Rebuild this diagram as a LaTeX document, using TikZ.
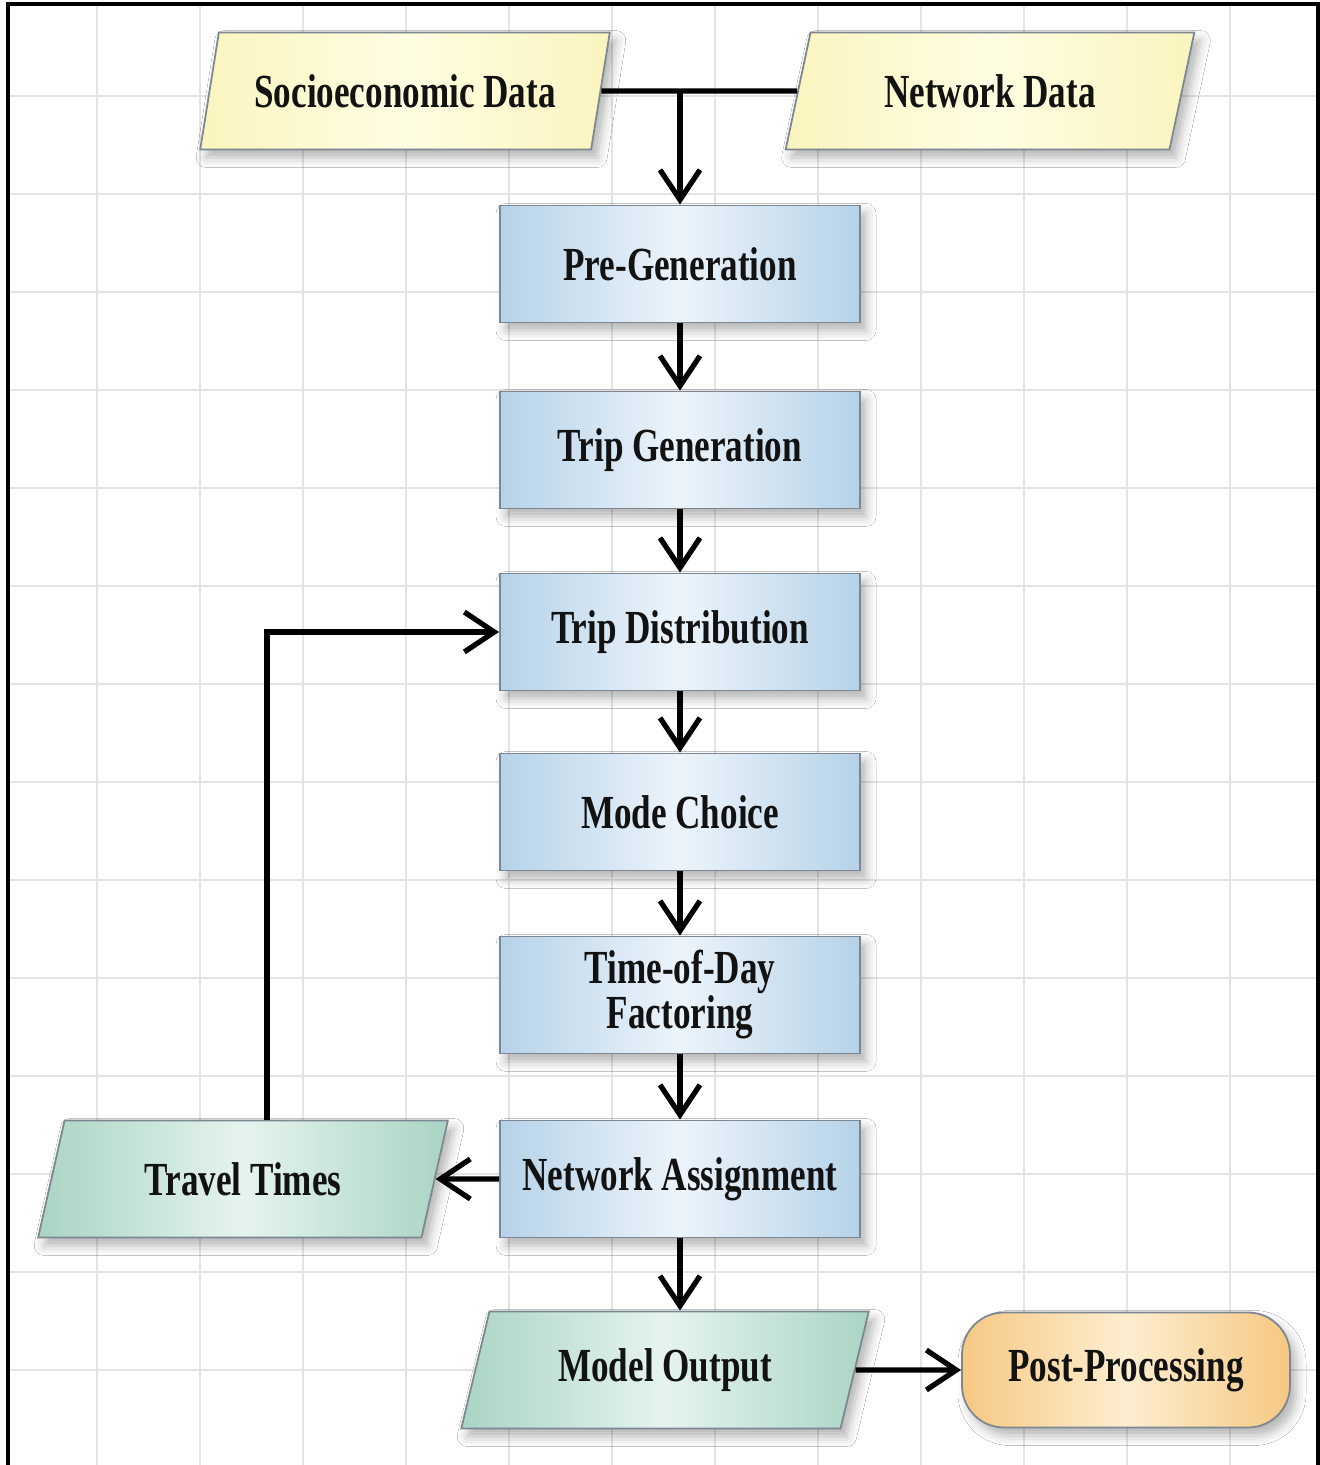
\documentclass[tikz,border=0pt]{standalone}
\usepackage{fontspec}
\setmainfont{Liberation Serif}[FakeStretch=0.74]
\usetikzlibrary{shapes.geometric,arrows.meta,shadows.blur,calc}

\definecolor{gridgray}{RGB}{228,228,228}
\definecolor{textdark}{RGB}{18,18,18}
\definecolor{boxline}{RGB}{125,135,145}
\definecolor{blueedge}{RGB}{182,210,232}
\definecolor{bluemid}{RGB}{236,244,251}
\definecolor{yellowedge}{RGB}{250,244,190}
\definecolor{yellowmid}{RGB}{255,253,226}
\definecolor{greenedge}{RGB}{170,212,196}
\definecolor{greenmid}{RGB}{229,244,238}
\definecolor{orangeedge}{RGB}{246,200,130}
\definecolor{orangemid}{RGB}{253,238,208}

\tikzset{
    boxshadow/.style={blur shadow={shadow xshift=0.06cm, shadow yshift=-0.08cm, shadow opacity=30, shadow blur radius=0.1cm}},
    boxtext/.style={font=\fontsize{13.5}{12.8}\selectfont\bfseries, text=textdark, align=center},
    stage/.style={rectangle, draw=boxline, line width=0.5pt, minimum width=3.6cm, minimum height=1.17cm,
        left color=blueedge, right color=blueedge, middle color=bluemid, boxshadow, boxtext},
    datashape/.style={trapezium, trapezium left angle=74, trapezium right angle=106, trapezium stretches=true,
        draw=boxline, line width=0.5pt, minimum width=4.1cm, minimum height=1.17cm, boxshadow, boxtext},
    inputdata/.style={datashape, left color=yellowedge, right color=yellowedge, middle color=yellowmid},
    outputdata/.style={datashape, left color=greenedge, right color=greenedge, middle color=greenmid},
    postbox/.style={rectangle, rounded corners=0.42cm, draw=boxline, line width=0.5pt, minimum width=3.28cm,
        minimum height=1.15cm, left color=orangeedge, right color=orangeedge, middle color=orangemid, boxshadow, boxtext},
    flowarrow/.style={line width=1.5pt, -{Straight Barb[length=3.0mm, width=4.0mm]}}
}

\begin{document}
\begin{tikzpicture}
    \useasboundingbox (0,0) rectangle (13.2,14.65);
    \fill[white] (0,0) rectangle (13.2,14.65);

    % grid paper
    \foreach \x in {0.97,2.00,...,12.31} {
        \draw[gridgray, line width=0.6pt] (\x, 0) -- (\x, 14.61);
    }
    \foreach \y in {0.95,1.93,...,13.70} {
        \draw[gridgray, line width=0.6pt] (0.08, \y) -- (13.18, \y);
    }
    \draw[line width=0.9pt] (0.08, -0.10) -- (0.08, 14.61) -- (13.18, 14.61) -- (13.18, -0.10);

    % inputs
    \node[inputdata] (socio) at (4.05, 13.74) {Socioeconomic Data};
    \node[inputdata] (network) at (9.90, 13.74) {Network Data};

    % model steps
    \node[stage] (pregen) at (6.80, 12.01) {Pre-Generation};
    \node[stage] (tripgen) at (6.80, 10.15) {Trip Generation};
    \node[stage] (tripdist) at (6.80, 8.33) {Trip Distribution};
    \node[stage] (mode) at (6.80, 6.53) {Mode Choice};
    \node[stage] (tod) at (6.80, 4.70) {Time-of-Day\\Factoring};
    \node[stage] (assign) at (6.80, 2.86) {Network Assignment};

    % outputs
    \node[outputdata] (travel) at (2.43, 2.86) {Travel Times};
    \node[outputdata] (output) at (6.65, 0.95) {Model Output};
    \node[postbox] (post) at (11.26, 0.95) {Post-Processing};

    % connectors
    \coordinate (join) at (pregen.north |- socio.east);
    \draw[line width=1.5pt] (socio.east) -- (network.west);
    \draw[flowarrow] (join) -- (pregen.north);
    \foreach \a/\b in {pregen/tripgen, tripgen/tripdist, tripdist/mode, mode/tod, tod/assign} {
        \draw[flowarrow] (\a) -- (\b);
    }
    \draw[flowarrow] (assign.south) -- (assign.south |- output.north);
    \draw[flowarrow] (assign.west) -- (travel.east);
    \draw[flowarrow] ($(travel.north)+(0.24,0)$) |- (tripdist.west);
    \draw[flowarrow] (output.east) -- (post.west);
\end{tikzpicture}
\end{document}
